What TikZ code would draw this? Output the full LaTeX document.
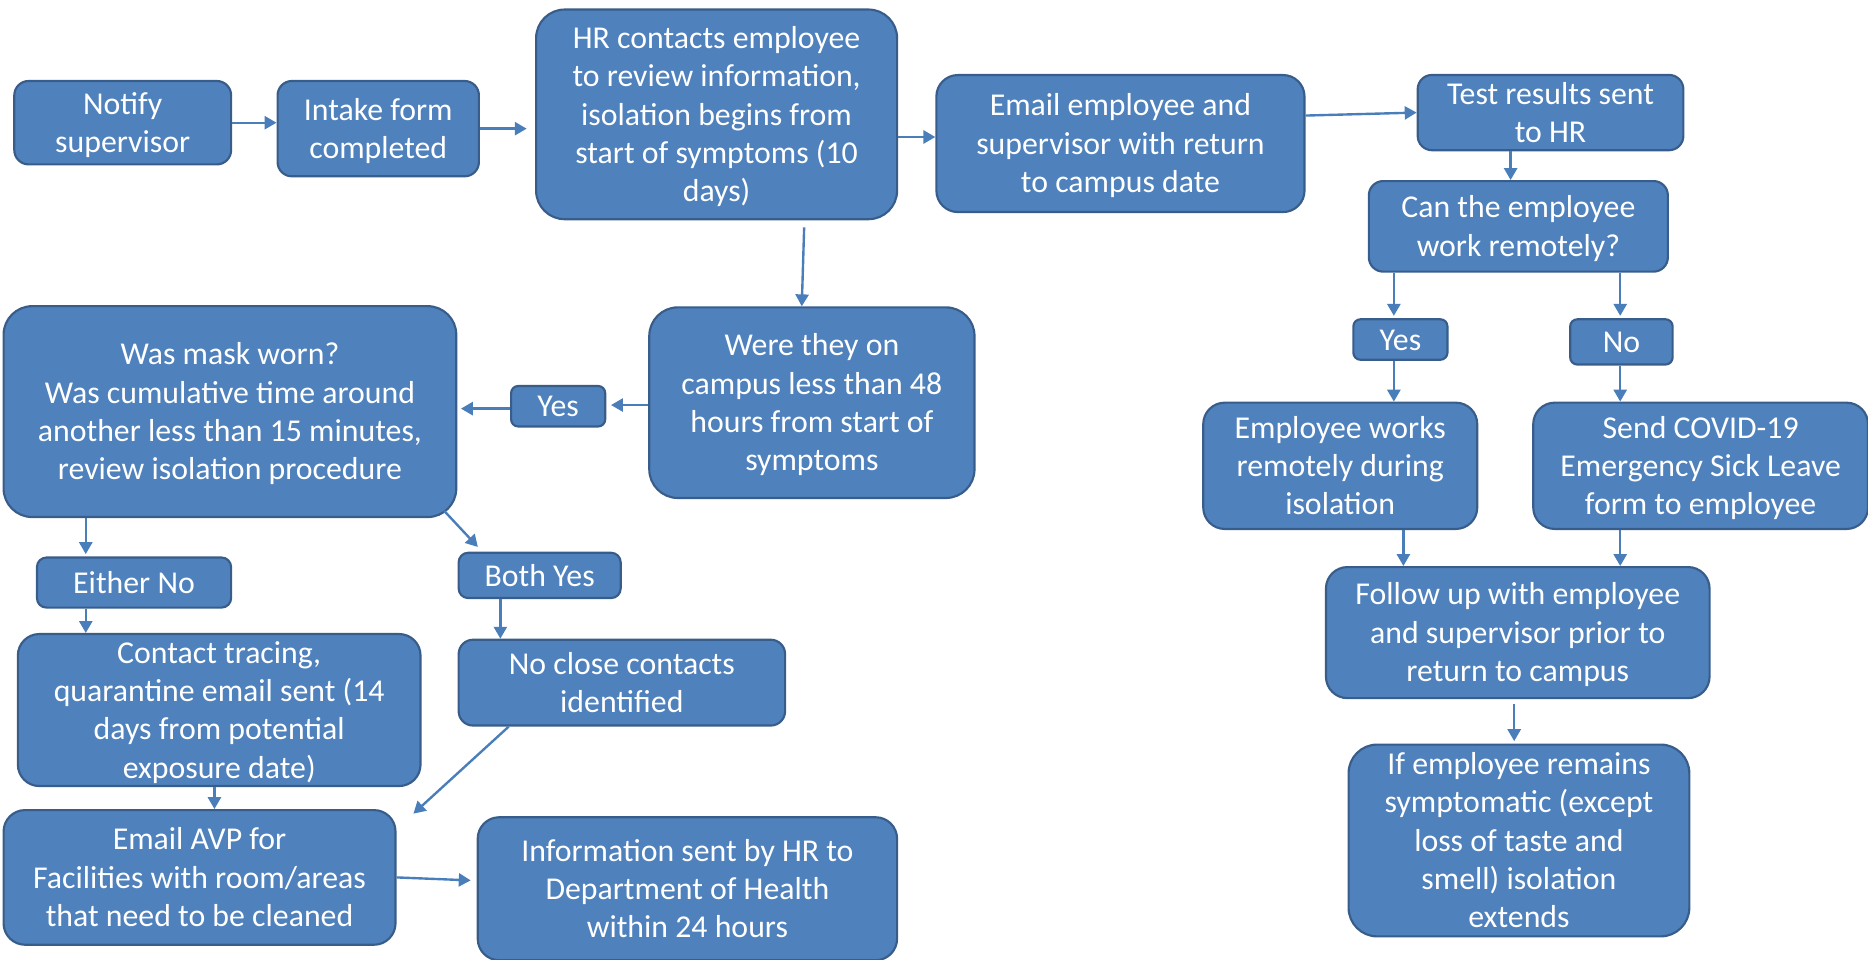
\documentclass[tikz,border=0pt]{standalone}
\usepackage{fontspec}
\setmainfont{Carlito}
\usetikzlibrary{arrows.meta,calc}
\definecolor{boxfill}{HTML}{4F81BD}
\definecolor{boxline}{HTML}{385D8A}
\definecolor{arrowc}{HTML}{4A7EBB}
\newcommand\fstrut{\rule{0pt}{24.5pt}}
\newcommand\lstrut{\rule[-6.5pt]{0pt}{6.5pt}}
\tikzset{
 box/.style={draw=boxline, fill=boxfill, line width=1.8pt, rounded corners=12pt, text=white, align=center, inner sep=0pt, font=\fontsize{26.7}{32.2}\selectfont},
 bigbox/.style={box, rounded corners=24pt},
 midbox/.style={box, rounded corners=18pt},
 arr/.style={draw=arrowc, line width=2pt, -{Triangle[length=10pt,width=11pt]}},
}
\begin{document}
\begin{tikzpicture}[x=1pt,y=-1pt]
\useasboundingbox (0,0) rectangle (1568,805);

\node[box, minimum width=182pt, minimum height=70pt] (notify) at (103,103) {\fstrut Notify\\supervisor\lstrut};
\node[box, minimum width=169pt, minimum height=80pt] (intake) at (317.5,108) {\fstrut Intake form\\completed\lstrut};
\node[bigbox, minimum width=303pt, minimum height=176pt] (hr) at (601.5,96) {\fstrut HR contacts employee\\to review information,\\isolation begins from\\start of symptoms (10\\days)\lstrut};
\node[midbox, minimum width=309pt, minimum height=115pt] (email) at (940.5,120.5) {\fstrut Email employee and\\supervisor with return\\to campus date\lstrut};
\node[box, minimum width=223pt, minimum height=63pt] (test) at (1301.5,94.5) {\fstrut Test results sent\\to HR\lstrut};
\node[box, minimum width=251pt, minimum height=76pt] (can) at (1274.5,190) {\fstrut Can the employee\\work remotely?\lstrut};
\node[box, rounded corners=6pt, minimum width=79pt, minimum height=34pt] (yesr) at (1175.5,285) {\fstrut Yes\lstrut};
\node[box, rounded corners=6pt, minimum width=86pt, minimum height=38pt] (nor) at (1361,287) {\fstrut No\lstrut};
\node[midbox, minimum width=230pt, minimum height=106pt] (works) at (1125,391) {\fstrut Employee works\\remotely during\\isolation\lstrut};
\node[midbox, minimum width=281pt, minimum height=106pt] (send) at (1427.5,391) {\fstrut Send COVID-19\\Emergency Sick Leave\\form to employee\lstrut};
\node[midbox, minimum width=322pt, minimum height=110pt] (follow) at (1274,531) {\fstrut Follow up with employee\\and supervisor prior to\\return to campus\lstrut};
\node[bigbox, minimum width=286pt, minimum height=161pt] (ifemp) at (1275,705.5) {\fstrut If employee remains\\symptomatic (except\\loss of taste and\\smell) isolation\\extends\lstrut};
\node[bigbox, minimum width=273pt, minimum height=160pt] (were) at (681.5,338) {\fstrut Were they on\\campus less than 48\\hours from start of\\symptoms\lstrut};
\node[box, rounded corners=6pt, minimum width=79pt, minimum height=34pt] (yesl) at (468.5,341) {\fstrut Yes\lstrut};
\node[bigbox, minimum width=380pt, minimum height=177pt] (mask) at (193,345.5) {\fstrut Was mask worn?\\Was cumulative time around\\another less than 15 minutes,\\review isolation procedure\lstrut};
\node[box, rounded corners=8pt, minimum width=163pt, minimum height=42pt] (eitherno) at (112.5,489) {\fstrut Either No\lstrut};
\node[box, rounded corners=8pt, minimum width=136pt, minimum height=38pt] (bothyes) at (453,483) {\fstrut Both Yes\lstrut};
\node[midbox, minimum width=338pt, minimum height=122pt] (contact) at (184,596) {\fstrut Contact tracing,\\quarantine email sent (14\\days from potential\\exposure date)\lstrut};
\node[box, minimum width=274pt, minimum height=72pt] (noclose) at (522,573) {\fstrut No close contacts\\identified\lstrut};
\node[midbox, minimum width=329pt, minimum height=113pt] (avp) at (167.5,736.5) {\fstrut Email AVP for\\Facilities with room/areas\\that need to be cleaned\lstrut};
\node[midbox, minimum width=352pt, minimum height=120pt] (info) at (577,746) {\fstrut Information sent by HR to\\Department of Health\\within 24 hours\lstrut};
\coordinate (ncend) at (347,683);

\draw[arr] (notify.east) -- (notify.east -| intake.west);
\draw[arr] (intake.east) -- ($(intake.east -| hr.west)+(-7,0)$);
\draw[arr] ($(hr.east)+(0,19)$) -- ($(email.west)+(0,-5.5)$);
\draw[arr] ($(email.east)+(0,-23.5)$) -- (test.west);
\draw[arr] ($(test.south)+(-33.5,0)$) -- ($(can.north)+(-6.5,0)$);
\draw[arr] ($(can.south)+(-104.5,0)$) -- ($(yesr.north)+(-5.5,-2)$);
\draw[arr] ($(can.south)+(85.5,0)$) -- ($(nor.north)+(-1,-2)$);
\draw[arr] ($(yesr.south)+(-5.5,0)$) -- ($(works.north)+(45,0)$);
\draw[arr] ($(nor.south)+(-1,0)$) -- ($(send.north)+(-67.5,0)$);
\draw[arr] ($(works.south)+(53,0)$) -- ($(follow.north)+(-96,0)$);
\draw[arr] ($(send.south)+(-67.5,0)$) -- ($(follow.north)+(86,0)$);
\draw[arr] ($(follow.south)+(-3,4)$) -- ($(ifemp.north)+(-4,-2)$);
\draw[arr] ($(hr.south)+(73.5,6)$) -- ($(were.north)+(-8.5,0)$);
\draw[arr] ($(were.west)+(0,2)$) -- ($(yesl.east)+(4,-1)$);
\draw[arr] ($(yesl.west)+(0,2)$) -- ($(mask.east)+(3,-2.5)$);
\draw[arr] ($(mask.south)+(-121,0)$) -- ($(eitherno.north)+(-40.5,-2)$);
\draw[arr] ($(mask.south east)+(-11,-6)$) -- ($(bothyes.north west)+(17,-4)$);
\draw[arr] ($(eitherno.south)+(-40.5,0)$) -- ($(contact.north)+(-112,0)$);
\draw[arr] ($(bothyes.south)+(-33,0)$) -- ($(noclose.north)+(-102,0)$);
\draw[arr] ($(contact.south)+(-4,0)$) -- ($(avp.north)+(12.5,0)$);
\draw[arr] ($(noclose.south)+(-95,0)$) -- (ncend);
\draw[arr] (avp.east) -- ($(info.west)+(-5,-7)$);
\end{tikzpicture}
\end{document}
